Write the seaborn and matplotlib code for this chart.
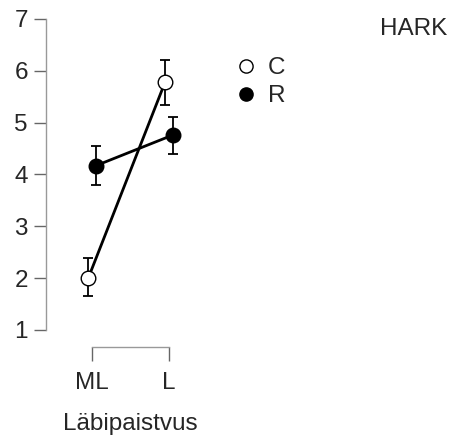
import numpy as np
import pandas as pd
import matplotlib
matplotlib.use("Agg")
import matplotlib.pyplot as plt
from matplotlib.lines import Line2D
import seaborn as sns

# data
levels = ["ML", "L"]
groups = ["C", "R"]
c_mean = [2.00, 5.78]
c_low = [1.65, 5.34]
c_high = [2.38, 6.21]
r_mean = [4.17, 4.76]
r_low = [3.79, 4.39]
r_high = [4.55, 5.11]

sns.set_style("ticks")
plt.rcParams['font.family'] = ['Liberation Sans', 'DejaVu Sans']

rows = []
for g, m, lo, hi in [("C", c_mean, c_low, c_high), ("R", r_mean, r_low, r_high)]:
    for i, lev in enumerate(levels):
        rows.append({"group": g, "level": lev, "pos": i, "mean": m[i], "low": lo[i], "high": hi[i]})
df = pd.DataFrame(rows)
dodge = {"C": -0.05, "R": 0.05}
df["x"] = df["pos"] + df["group"].map(dodge)

fig = plt.figure(figsize=(4.51, 4.37), dpi=100)
ax = fig.add_axes([0.102, 0.206, 0.3747, 0.7506])

sns.lineplot(data=df, x="x", y="mean", units="group", estimator=None,
             color="black", lw=2, ax=ax, legend=False)
for g, face in [("C", "white"), ("R", "black")]:
    d = df[df["group"] == g]
    ax.errorbar(d["x"], d["mean"], yerr=[d["mean"] - d["low"], d["high"] - d["mean"]],
                fmt="none", ecolor="black", elinewidth=1.3, capsize=3.5, capthick=1.3, zorder=3)
    sns.scatterplot(x=d["x"], y=d["mean"], color=face, edgecolor="black", linewidth=1,
                    s=110, ax=ax, zorder=4, clip_on=False, legend=False)

ax.set_xlim(-0.6, 1.6)
ax.set_ylim(0.672, 7.0)
ax.set_yticks(range(1, 8))
ax.set_xticks([0, 1])
ax.set_xticklabels(levels)
ax.spines["left"].set_bounds(1, 7)
ax.spines["bottom"].set_bounds(0, 1)
for s in ["top", "right"]:
    ax.spines[s].set_visible(False)
for s in ["left", "bottom"]:
    ax.spines[s].set_color("#999999")
    ax.spines[s].set_linewidth(1)
ax.tick_params(axis="y", length=9, width=1, color="#666666", pad=4, labelsize=17.5)
ax.tick_params(axis="x", length=10, width=1, color="#666666", pad=8, labelsize=17.5)
ax.set_xlabel("Läbipaistvus", fontsize=17.5, labelpad=14)
ax.set_ylabel("")

handles = [Line2D([], [], ls="none", marker="o", ms=9.5, mfc="white", mec="black", mew=1),
           Line2D([], [], ls="none", marker="o", ms=9.5, mfc="black", mec="black", mew=1)]
fig.legend(handles, groups, loc="upper left", bbox_to_anchor=(0.47, 0.919),
           frameon=False, fontsize=17.5, handletextpad=0.4, labelspacing=0.25,
           handlelength=1.0)
fig.text(0.991, 0.934, "HARK", ha="right", va="center", fontsize=17.5)

fig.savefig("out.png", dpi=100)
